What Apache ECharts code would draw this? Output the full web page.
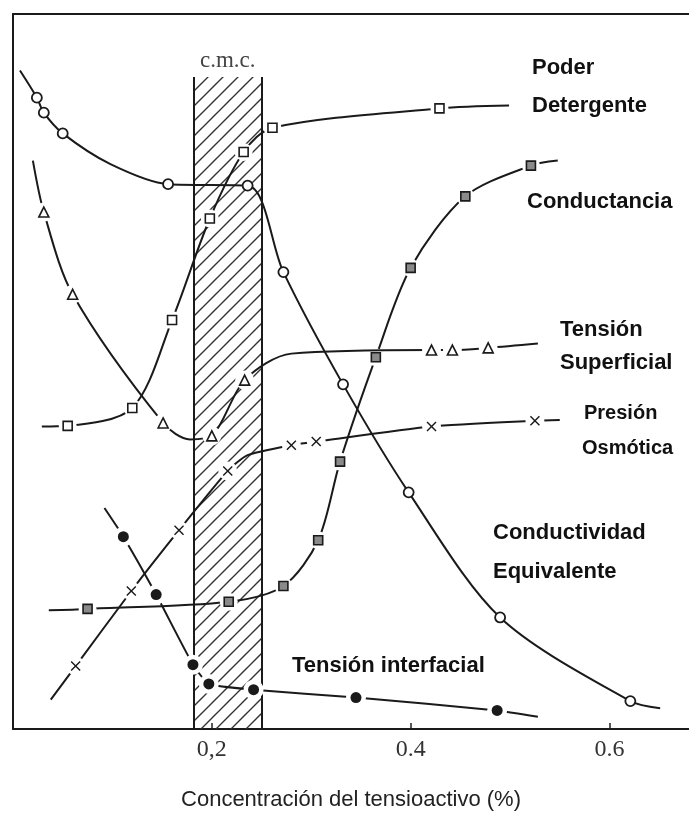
<!DOCTYPE html>
<html>
<head>
<meta charset="utf-8">
<script src="https://cdn.jsdelivr.net/npm/echarts@6/dist/echarts.min.js"></script>
<style>
  html, body { margin: 0; padding: 0; background: #fff; }
  #chart { width: 689px; height: 816px; }
</style>
</head>
<body>
<div id="chart"></div>
<script>
// Concentration axis (%)
const xTicks = [0.2, 0.4, 0.6];
const tickLabels = ['0,2', '0.4', '0.6'];

// Critical micelle concentration band
const cmcRange = [0.182, 0.25];
const cmcTop = 91.2;

// Each property: measured points (with marker) and curve ends / bends (line only)
const conductividadMarks = [[0.024, 88.3], [0.031, 86.2], [0.050, 83.3], [0.156, 76.2], [0.236, 76.0],
  [0.272, 63.9], [0.332, 48.2], [0.398, 33.1], [0.490, 15.6], [0.621, 3.9]];
const conductividadTrace = [[0.007, 92.1], [0.098, 79.0], [0.651, 2.9]];

const detergenteMarks = [[0.055, 42.4], [0.120, 44.9], [0.160, 57.2], [0.198, 71.4], [0.232, 80.7],
  [0.261, 84.1], [0.429, 86.8]];
const detergenteTrace = [[0.029, 42.3], [0.499, 87.2]];

const conductanciaMarks = [[0.075, 16.8], [0.217, 17.8], [0.272, 20.0], [0.307, 26.4], [0.329, 37.4],
  [0.365, 52.0], [0.400, 64.5], [0.455, 74.5], [0.521, 78.8]];
const conductanciaTrace = [[0.036, 16.6], [0.548, 79.5]];

const superficialMarks = [[0.031, 72.3], [0.060, 60.8], [0.151, 42.8], [0.200, 41.0], [0.233, 48.8],
  [0.421, 53.0], [0.442, 53.0], [0.478, 53.3]];
const superficialTrace = [[0.020, 79.5], [0.178, 40.5], [0.280, 52.5], [0.528, 53.9]];

const osmoticaMarks = [[0.063, 8.8], [0.119, 19.3], [0.167, 27.8], [0.216, 36.1], [0.280, 39.7],
  [0.305, 40.2], [0.421, 42.3], [0.525, 43.1]];
const osmoticaTrace = [[0.038, 4.1], [0.236, 38.3], [0.550, 43.2]];

const interfacialMarks = [[0.111, 26.9], [0.144, 18.8], [0.181, 9.0], [0.197, 6.3], [0.242, 5.5],
  [0.345, 4.4], [0.487, 2.6]];
const interfacialTrace = [[0.092, 30.9], [0.528, 1.7]];

const INK = '#1a1a1a';
const CROSS = 'path://M1,0L5,4L9,0L10,1L6,5L10,9L9,10L5,6L1,10L0,9L4,5L0,1Z';

// diagonal hatch for the c.m.c. band
function hatchPattern() {
  const s = 15;
  const c = document.createElement('canvas');
  c.width = s; c.height = s;
  const g = c.getContext('2d');
  g.strokeStyle = '#333';
  g.lineWidth = 1.4;
  g.beginPath();
  g.moveTo(0, s); g.lineTo(s, 0);
  g.moveTo(-2, 2); g.lineTo(2, -2);
  g.moveTo(s - 2, s + 2); g.lineTo(s + 2, s - 2);
  g.stroke();
  return { image: c, repeat: 'repeat' };
}

function curve(name, marks, trace, opt, zBase) {
  const line = marks.concat(trace).sort((a, b) => a[0] - b[0]);
  const out = [{
    name: name, type: 'line', data: line, symbol: 'none',
    smooth: opt.smooth,
    lineStyle: { color: INK, width: 2 }, z: zBase, silent: true
  }];
  if (opt.halo) {
    out.push({
      type: 'scatter', data: marks, symbol: 'circle', symbolSize: opt.size + 9,
      itemStyle: { color: '#fff', opacity: 1 }, z: zBase + 1, silent: true
    });
  }
  out.push({
    type: 'scatter', data: marks, symbol: opt.symbol, symbolSize: opt.size,
    itemStyle: { color: opt.fill, borderColor: INK, borderWidth: opt.border, opacity: 1 },
    z: zBase + 2, silent: true
  });
  return out;
}

const chart = echarts.init(document.getElementById('chart'), null, { renderer: 'canvas' });

const series = [
  {
    type: 'line', data: [[cmcRange[0], 0], [cmcRange[1], 0]], symbol: 'none',
    lineStyle: { width: 0 }, z: 1, silent: true,
    markArea: {
      silent: true,
      itemStyle: { color: hatchPattern(), borderWidth: 0 },
      label: {
        show: true, position: 'top', distance: 4, formatter: 'c.m.c.',
        fontFamily: 'Liberation Serif', fontSize: 23, color: '#444'
      },
      data: [[{ xAxis: cmcRange[0], yAxis: 0 }, { xAxis: cmcRange[1], yAxis: cmcTop }]]
    },
    markLine: {
      silent: true, symbol: 'none', label: { show: false },
      lineStyle: { color: INK, width: 2, type: 'solid' },
      data: cmcRange.map(x => [{ coord: [x, 0] }, { coord: [x, cmcTop] }])
    }
  }
]
  .concat(curve('Conductividad Equivalente', conductividadMarks, conductividadTrace,
    { symbol: 'circle', size: 10, fill: '#fff', border: 1.8, halo: false, smooth: 0.3 }, 10))
  .concat(curve('Poder Detergente', detergenteMarks, detergenteTrace,
    { symbol: 'rect', size: 9, fill: '#fff', border: 1.6, halo: true, smooth: 0.3 }, 20))
  .concat(curve('Conductancia', conductanciaMarks, conductanciaTrace,
    { symbol: 'rect', size: 9, fill: '#8a8a8a', border: 1.6, halo: true, smooth: 0.3 }, 30))
  .concat(curve('Tensión Superficial', superficialMarks, superficialTrace,
    { symbol: 'triangle', size: 10, fill: '#fff', border: 1.6, halo: true, smooth: 0.3 }, 40))
  .concat(curve('Presión Osmótica', osmoticaMarks, osmoticaTrace,
    { symbol: CROSS, size: 10, fill: INK, border: 0, halo: true, smooth: 0.2 }, 50))
  .concat(curve('Tensión interfacial', interfacialMarks, interfacialTrace,
    { symbol: 'circle', size: 11, fill: INK, border: 0, halo: true, smooth: 0.15 }, 60));

const labelFont = 'bold 22px "Liberation Sans", Arial, sans-serif';
const osmFont = 'bold 20px "Liberation Sans", Arial, sans-serif';
function tag(text, x, y, font) {
  return { type: 'text', x: x, y: y, z: 100, silent: true,
    style: { text: text, font: font || labelFont, fill: '#111', verticalAlign: 'middle' } };
}

chart.setOption({
  animation: false,
  backgroundColor: '#fff',
  grid: { left: 13, right: 0, top: 14, bottom: 76 },
  xAxis: [{
    type: 'value', min: 0, max: 0.68, interval: 0.2, position: 'bottom',
    axisLine: { lineStyle: { color: INK, width: 2 } },
    axisTick: { show: true, inside: true, length: 6, lineStyle: { color: '#222', width: 1.5 } },
    axisLabel: {
      showMinLabel: false, showMaxLabel: false, margin: 9,
      fontFamily: 'Liberation Serif', fontSize: 24, color: '#333',
      formatter: v => {
        const i = xTicks.findIndex(t => Math.abs(t - v) < 1e-6);
        return i < 0 ? '' : tickLabels[i];
      }
    },
    splitLine: { show: false },
    name: 'Concentración del tensioactivo (%)',
    nameLocation: 'middle', nameGap: 60,
    nameTextStyle: { fontFamily: 'Liberation Sans', fontSize: 22, color: '#222' }
  }, {
    type: 'value', min: 0, max: 0.68, position: 'top',
    axisLine: { show: true, lineStyle: { color: INK, width: 2 } },
    axisTick: { show: false }, axisLabel: { show: false }, splitLine: { show: false }
  }],
  yAxis: {
    type: 'value', min: 0, max: 100,
    axisLine: { show: true, lineStyle: { color: INK, width: 2 } },
    axisTick: { show: false }, axisLabel: { show: false }, splitLine: { show: false }
  },
  series: series,
  graphic: [
    tag('Poder', 532, 68),
    tag('Detergente', 532, 106),
    tag('Conductancia', 527, 202),
    tag('Tensión', 560, 330),
    tag('Superficial', 560, 363),
    tag('Presión', 584, 413, osmFont),
    tag('Osmótica', 582, 448, osmFont),
    tag('Conductividad', 493, 533),
    tag('Equivalente', 493, 572),
    tag('Tensión interfacial', 292, 666)
  ]
});
</script>
</body>
</html>
